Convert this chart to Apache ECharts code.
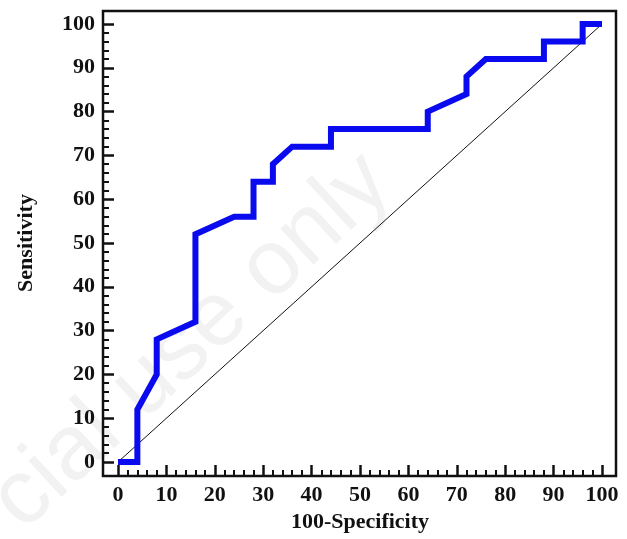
<!DOCTYPE html>
<html>
<head>
<meta charset="utf-8">
<script src="https://cdn.jsdelivr.net/npm/echarts@6/dist/echarts.min.js"></script>
<style>
html,body{margin:0;padding:0;background:#fff;}
#chart{width:627px;height:539px;}
</style>
</head>
<body>
<div id="chart"></div>
<script>
// ROC curve points (100-Specificity, Sensitivity)
var fpr = [0, 4, 4, 8, 8, 16, 16, 24, 28, 28, 32, 32, 36, 44, 44, 64, 64, 72, 72, 76, 88, 88, 96, 96, 100];
var tpr = [0, 0, 12, 20, 28, 32, 52, 56, 56, 64, 64, 68, 72, 72, 76, 76, 80, 84, 88, 92, 92, 96, 96, 100, 100];
// reference diagonal
var refX = [0, 100];
var refY = [0, 100];
// axis scale (ticks every 10, minor every 2)
var axisMin = 0;
var axisMax = 100;
var tickInterval = 10;
var minorSplit = 5;
var xName = '100-Specificity';
var yName = 'Sensitivity';
var watermark = 'cial use only';

var serif = '"Liberation Serif", "Times New Roman", serif';
var labelStyle = {fontFamily: serif, fontWeight: 'bold', fontSize: 22, color: '#111'};

function zip(a, b) { return a.map(function (v, i) { return [v, b[i]]; }); }

function mainAxis(isX) {
  return {
    type: 'value', gridIndex: 0, min: axisMin, max: axisMax, interval: tickInterval,
    position: isX ? 'bottom' : 'left',
    offset: isX ? 14 : 15,
    name: isX ? xName : yName,
    nameLocation: 'middle',
    nameGap: isX ? 33 : 66,
    nameTextStyle: {fontFamily: serif, fontWeight: 'bold', fontSize: 22, color: '#111'},
    axisLine: {show: true, onZero: false, lineStyle: {color: '#111', width: 0}},
    axisTick: {show: true, inside: true, length: 11, lineStyle: {color: '#111', width: 2.5}},
    minorTick: {show: true, inside: true, splitNumber: minorSplit, length: 6, lineStyle: {color: '#111', width: 2}},
    axisLabel: Object.assign({show: true, margin: 8}, labelStyle),
    splitLine: {show: false},
    minorSplitLine: {show: false}
  };
}
function frameAxis() {
  return {type: 'value', gridIndex: 1, min: 0, max: 1, show: false};
}

var chart = echarts.init(document.getElementById('chart'), null, {renderer: 'canvas'});
chart.setOption({
  animation: false,
  backgroundColor: '#fff',
  grid: [
    {left: 118, right: 25, top: 24, bottom: 77, show: false},
    {left: 103, right: 11, top: 11, bottom: 63, show: true, borderColor: '#111', borderWidth: 2.5, backgroundColor: 'transparent', z: 0}
  ],
  xAxis: [mainAxis(true), frameAxis()],
  yAxis: [mainAxis(false), frameAxis()],
  graphic: [{
    type: 'text', z: -10, silent: true,
    x: 192, y: 342, rotation: 42.7 * Math.PI / 180,
    style: {text: watermark, fontFamily: '"Liberation Sans", Arial, sans-serif', fontSize: 92, fill: '#f2f2f2', align: 'center', verticalAlign: 'middle'}
  }],
  series: [
    {type: 'line', xAxisIndex: 0, yAxisIndex: 0, data: zip(refX, refY), showSymbol: false, symbol: 'none', lineStyle: {color: '#111', width: 1}, z: 2},
    {type: 'line', xAxisIndex: 0, yAxisIndex: 0, data: zip(fpr, tpr), showSymbol: false, symbol: 'none', lineStyle: {color: '#0a0aef', width: 6, join: 'miter'}, z: 3}
  ]
});
</script>
</body>
</html>
